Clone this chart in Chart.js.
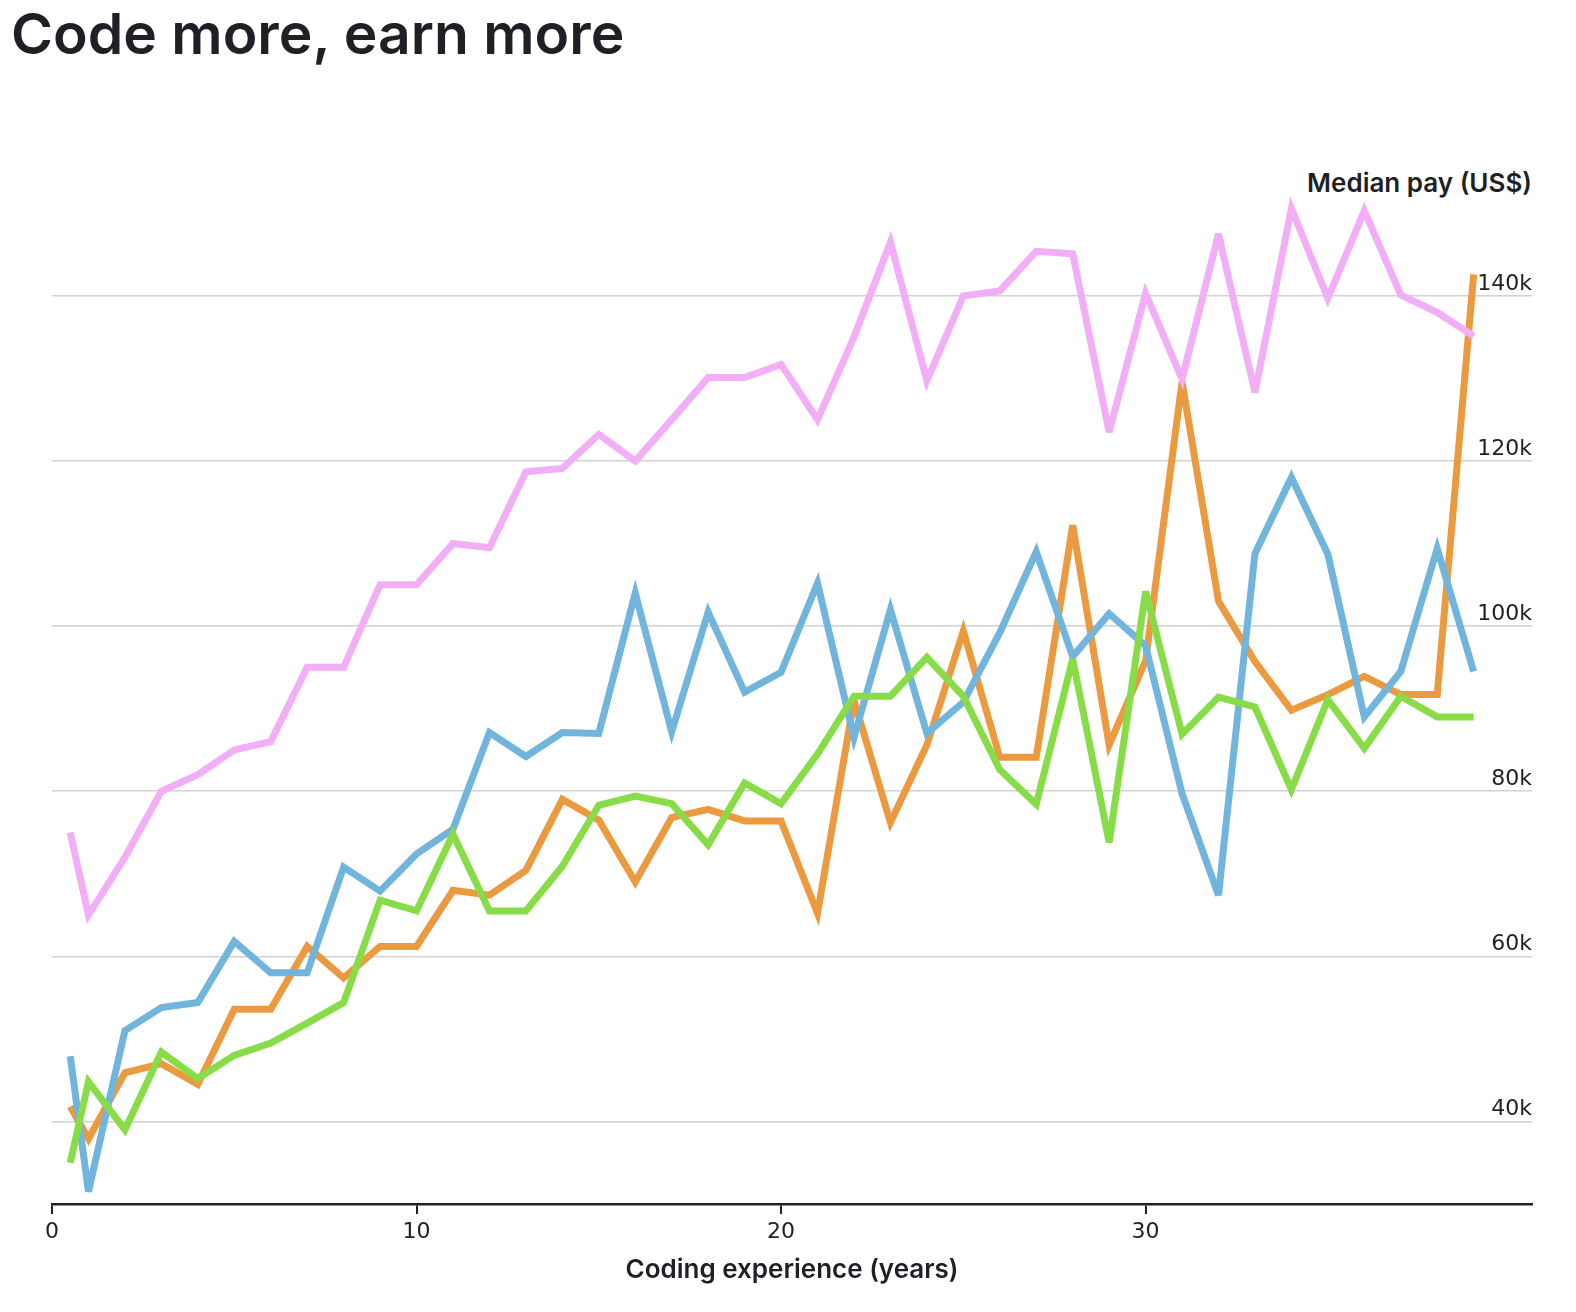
<!DOCTYPE html>
<html>
<head>
<meta charset="utf-8">
<script src="https://cdn.jsdelivr.net/npm/chart.js@4.4.1/dist/chart.umd.min.js"></script>
<style>
  html, body { margin: 0; padding: 0; background: #ffffff; }
  body { width: 1576px; height: 1312px; position: relative; overflow: hidden; font-family: Inter, "Noto Sans", sans-serif; }
  #title { position: absolute; left: 11px; top: 5px; margin: 0; font-family: Inter, sans-serif; font-weight: 600; font-size: 57px; line-height: 1; color: #211f26; white-space: nowrap; }
  #ytitle { position: absolute; right: 44px; top: 168px; font-family: Inter, sans-serif; font-weight: 600; font-size: 26px; line-height: 30px; color: #211f26; white-space: nowrap; }
  #wrap { position: absolute; left: 0; top: 0; width: 1576px; height: 1312px; }
</style>
</head>
<body>
<h1 id="title">Code more, earn more</h1>
<div id="ytitle">Median pay (US$)</div>
<div id="wrap"><canvas id="c" width="1576" height="1312"></canvas></div>
<script>
// Years of coding experience
const years = [0.5, 1, 2, 3, 4, 5, 6, 7, 8, 9, 10, 11, 12, 13, 14, 15, 16, 17, 18, 19, 20,
  21, 22, 23, 24, 25, 26, 27, 28, 29, 30, 31, 32, 33, 34, 35, 36, 37, 38, 39];

// Median pay, thousands of US$
const pinkSeries = [75, 65, 72, 80, 82, 85, 86, 95, 95, 105, 105, 110, 109.5, 118.7, 119.1, 123.2, 120, 125, 130.1, 130.1, 131.7,
  125, 135, 146.5, 129.7, 140, 140.6, 145.4, 145.1, 123.5, 140.3, 129.9, 147.5, 128.3, 150.6, 139.7, 150.3, 140.1, 138, 135.1];
const blueSeries = [47.9, 31.5, 51, 53.8, 54.4, 61.8, 58, 58, 70.8, 67.9, 72.4, 75.4, 87.1, 84.2, 87.1, 87, 104, 87.2, 101.7, 92, 94.4,
  105.2, 86.5, 102, 87, 90.8, 99.2, 109, 96.3, 101.5, 97.6, 79.7, 67.4, 108.8, 118, 108.7, 89, 94.5, 109.4, 94.5];
const orangeSeries = [41.8, 37.9, 45.9, 47, 44.5, 53.6, 53.6, 61.2, 57.4, 61.2, 61.2, 68, 67.4, 70.4, 79, 76.5, 69, 76.8, 77.8, 76.4, 76.4,
  65.2, 91, 76.2, 85.6, 99.4, 84.1, 84.1, 112.2, 85.6, 95.8, 129.6, 103, 95.7, 89.8, 91.7, 93.9, 91.7, 91.7, 142.6];
const greenSeries = [35, 44.8, 39, 48.4, 45.2, 48, 49.5, 51.9, 54.4, 66.8, 65.5, 74.8, 65.5, 65.5, 70.9, 78.3, 79.4, 78.5, 73.5, 81, 78.5,
  84.5, 91.5, 91.5, 96.2, 91.5, 82.6, 78.4, 96, 73.8, 104.2, 86.9, 91.4, 90.2, 80.2, 91.1, 85.2, 91.5, 89, 89];

const xTickValues = [0, 10, 20, 30];
const yTickValues = [40, 60, 80, 100, 120, 140];
const yTickLabels = ['40k', '60k', '80k', '100k', '120k', '140k'];

const toPoints = (vals) => vals.map((v, i) => ({ x: years[i], y: v }));

function lineDs(vals, color) {
  return {
    data: toPoints(vals),
    borderColor: color,
    backgroundColor: color,
    borderWidth: 7,
    pointRadius: 0,
    pointHoverRadius: 0,
    tension: 0,
    fill: false,
    borderJoinStyle: 'miter',
    borderCapStyle: 'butt',
    clip: false
  };
}

// SVG-like miter limit so very sharp joins become flat (bevelled) tips
const miterPlugin = {
  id: 'miterLimit',
  beforeDatasetsDraw(chart) { chart.ctx.miterLimit = 4; }
};

new Chart(document.getElementById('c'), {
  type: 'line',
  data: {
    datasets: [
      lineDs(greenSeries, '#87dc48'),
      lineDs(pinkSeries, '#f2aef6'),
      lineDs(blueSeries, '#71b4dc'),
      lineDs(orangeSeries, '#eb9a40')
    ]
  },
  plugins: [miterPlugin],
  options: {
    responsive: false,
    animation: false,
    devicePixelRatio: 1,
    layout: { padding: { top: 172, left: 52, right: 44, bottom: 0 } },
    plugins: { legend: { display: false }, tooltip: { enabled: false }, title: { display: false } },
    scales: {
      x: {
        type: 'linear',
        min: 0,
        max: 40.6,
        afterBuildTicks: (s) => { s.ticks = xTickValues.map(v => ({ value: v })); },
        afterFit: (s) => { s.height = 108; },
        grid: { display: true, drawOnChartArea: false, drawTicks: true, tickLength: 10, color: '#222126', lineWidth: 2 },
        border: { display: true, color: '#222126', width: 2.5 },
        ticks: { color: '#222126', font: { family: '"DejaVu Sans"', size: 22 }, padding: 5, maxRotation: 0, autoSkip: false },
        title: { display: true, text: 'Coding experience (years)', color: '#211f26', font: { family: 'Inter', size: 26, weight: '600' }, padding: { top: 4, bottom: 26 } }
      },
      y: {
        type: 'linear',
        position: 'right',
        min: 30,
        max: 155,
        afterBuildTicks: (s) => { s.ticks = yTickValues.map(v => ({ value: v })); },
        afterFit: (s) => { s.width = 0; },
        grid: { display: true, drawOnChartArea: true, drawTicks: false, color: '#d2d2d2', lineWidth: 1.6 },
        border: { display: false },
        ticks: {
          mirror: true,
          padding: 0,
          labelOffset: -12,
          color: '#222126',
          font: { family: '"DejaVu Sans"', size: 22 },
          callback: (v) => { const i = yTickValues.indexOf(v); return i >= 0 ? yTickLabels[i] : ''; }
        }
      }
    }
  }
});
</script>
</body>
</html>
